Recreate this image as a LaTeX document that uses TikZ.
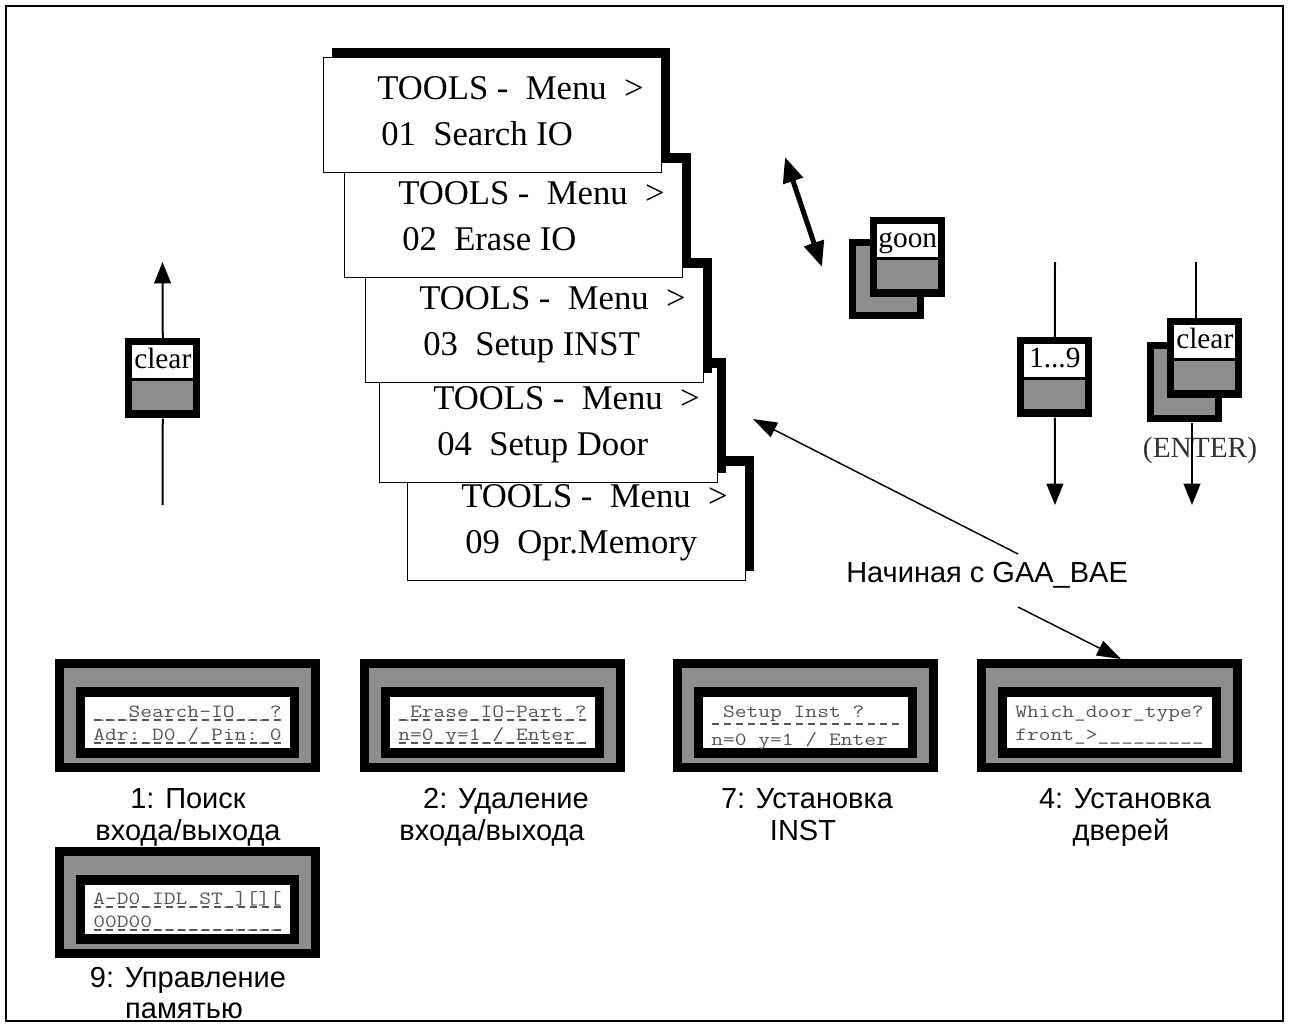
\documentclass[tikz,border=0pt]{standalone}
\usepackage{fontspec}
\usepackage{graphicx}
\setmainfont{Liberation Serif}
\newfontfamily\capfont{Liberation Sans}
\usetikzlibrary{arrows.meta,calc,shadows}
\definecolor{keygray}{HTML}{8E8E8E}
\definecolor{lcdtext}{HTML}{555555}

\newcommand{\menucard}[4]{%
  \node[menucardbox] (#1) at (#2,#3) {};
  \node[cardtxt] (#1a) at ({#2+54},{#3+42}) {TOOLS -~~Menu~~>};
  \node[cardtxt] (#1b) at ({#2+58},{#3+88}) {#4};
}
\newcommand{\keycap}[4]{%
  \node[keyblk] (#1) at (#2,#3) {};
  \fill[keygray] ({#2+7},{#3+43}) rectangle ({#2+68},{#3+72});
  \node[keylab] (#1l) at ({#2+7},{#3+7}) {#4};
}
\newcommand{\keyback}[3]{%
  \node[keyblk] (#1) at (#2,#3) {};
  \fill[keygray] ({#2+7},{#3+7}) rectangle ({#2+68},{#3+73});
}
% name, x0, y0, x1, y1
\newcommand{\lcdpanel}[5]{%
  \node[lcdframe, minimum width={(#4-#2)*0.75pt}, minimum height={(#5-#3)*0.75pt}] (#1) at (#2,#3) {};
  \fill[keygray] ({#2+9},{#3+9}) rectangle ({#4-9},{#5-9});
  \fill[black] ({#2+21},{#3+28}) rectangle ({#4-21},{#5-14});
  \fill[white] ({#2+30},{#3+38}) rectangle ({#4-30},{#5-24});
}
% name, x, baseline, text
\newcommand{\lcdline}[4]{%
  \node[lcdt] (#1) at (#2,#3) {\scalebox{1.225}[1]{#4}};
}
% x, baseline : dashed underline over 16 cells
\newcommand{\lcdunder}[2]{%
  \draw[lcddash] ({#1+1},{#2+3}) -- ({#1+192},{#2+3});
}

\begin{document}
\begin{tikzpicture}[x=0.75pt,y=-0.75pt,
  menucardbox/.style={draw=black, line width=1pt, fill=white, anchor=north west, inner sep=0pt,
    minimum width=253.5pt, minimum height=86.25pt,
    general shadow={fill=black, shadow xshift=6.5pt, shadow yshift=7.5pt}},
  cardtxt/.style={anchor=base west, inner sep=0pt, font=\fontsize{26}{28}\selectfont},
  keyblk/.style={fill=black, anchor=north west, inner sep=0pt, minimum width=56.25pt, minimum height=60pt},
  keylab/.style={fill=white, anchor=north west, inner sep=0pt, minimum width=45.75pt,
    minimum height=24.75pt, text height=15pt, text depth=5pt, font=\fontsize{22}{24}\selectfont},
  lcdframe/.style={fill=black, anchor=north west, inner sep=0pt},
  lcdt/.style={anchor=base west, inner sep=0pt, text=lcdtext, font=\ttfamily\fontsize{14}{14}\selectfont},
  lcddash/.style={draw=lcdtext, line width=0.8pt, dash pattern=on 5pt off 4pt},
  captxt/.style={anchor=base, inner sep=0pt, font=\capfont\fontsize{21.75}{24}\selectfont},
  keytxt/.style={anchor=base, inner sep=0pt, font=\fontsize{22}{24}\selectfont, text=black!80},
  karrow/.style={line width=1.5pt, -{Triangle[length=16pt,width=12.5pt]}},
  kline/.style={line width=1.5pt},
  thinarrow/.style={line width=1.1pt, -{Triangle[length=18pt,width=12pt]}},
  dblarrow/.style={line width=3.75pt, {Triangle[length=19pt,width=15pt]}-{Triangle[length=19pt,width=15pt]}}
]
\useasboundingbox (0,0) rectangle (1290,1026);
\draw[line width=1.2pt] (6,6) rectangle (1283,1021);

% menu cards (bottom first)
\menucard{c5}{407}{465}{09~~Opr.Memory}
\menucard{c4}{379}{367}{04~~Setup Door}
\menucard{c3}{365}{267}{03~~Setup INST}
\menucard{c2}{344}{162}{02~~Erase IO}
\menucard{c1}{323}{57}{01~~Search IO}

% left clear key
\keycap{kL}{125}{338}{clear}
\coordinate (tL) at (162.5,262);
\coordinate (bL) at (162.5,505);
\draw[karrow] (kL.north) -- (tL);
\draw[kline] (bL) -- (kL.south);

% goon key
\keyback{kGb}{849}{239}
\keycap{kG}{870}{217}{goon}
\coordinate (d1) at (785,157);
\coordinate (d2) at (822,267);
\draw[dblarrow] (d1) -- (d2);

% 1...9 key
\keycap{k19}{1017}{337}{1...9}
\coordinate (t19) at (1055,262);
\coordinate (b19) at (1055,505);
\draw[kline] (t19) -- (k19.north);
\draw[karrow] (k19.south) -- (b19);

% clear (ENTER) key
\keyback{kEb}{1147}{342}
\keycap{kE}{1167}{318}{clear}
\node[keytxt] (enter) at (1200,457) {(ENTER)};
\coordinate (tE) at (1196,262);
\coordinate (bE) at (1192,505);
\draw[kline] (tE) -- (tE |- kE.north);
\draw[karrow] (bE |- kEb.south) -- (bE);

% note and arrows
\node[captxt, anchor=base west] (note) at (846,582) {Начиная с GAA\_BAE};
\coordinate (n1) at (1018,554);
\coordinate (n1t) at (753,419);
\coordinate (n2) at (1018,607);
\coordinate (n2t) at (1121,659);

% LCD panels
\lcdpanel{lcd1}{55}{659}{320}{772}
\lcdline{l1a}{93}{717}{\_\_\_Search-IO\_\_\_?}
\lcdline{l1b}{93}{740}{Adr:\_D0\_/\_Pin:\_0}
\lcdunder{93}{717}
\lcdunder{93}{740}

\lcdpanel{lcd2}{360}{659}{625}{772}
\lcdline{l2a}{398}{717}{\_Erase\_IO-Part\_?}
\lcdline{l2b}{398}{740}{n=0\_y=1\_/\_Enter\_}
\lcdunder{398}{717}
\lcdunder{398}{740}

\lcdpanel{lcd3}{673}{659}{938}{772}
\lcdline{l3a}{711}{717}{\ Setup\ Inst\ ?}
\lcdunder{711}{721}
\lcdline{l3b}{711}{745}{n=0\ y=1\ /\ Enter}

\lcdpanel{lcd4}{977}{659}{1242}{772}
\lcdline{l4a}{1015}{717}{Which\_door\_type?}
\lcdline{l4b}{1015}{740}{front\_>\_\_\_\_\_\_\_\_\_}

\lcdpanel{lcd5}{55}{847}{320}{958}
\lcdline{l5a}{93}{904}{A-D0\_IDL\_ST\_][][}
\lcdline{l5b}{93}{927}{00D00\_\_\_\_\_\_\_\_\_\_\_}
\lcdunder{93}{904}
\lcdunder{93}{927}

\draw[thinarrow] (n1) -- (n1t);
\draw[thinarrow] (n2) -- (n2t);

% captions
\node[captxt] (p1a) at (188,808) {1: Поиск};
\node[captxt] (p1b) at (188,840) {входа/выхода};
\node[captxt] (p2a) at (506,808) {2: Удаление};
\node[captxt] (p2b) at (492,840) {входа/выхода};
\node[captxt] (p3a) at (807,808) {7: Установка};
\node[captxt] (p3b) at (803,840) {INST};
\node[captxt] (p4a) at (1125,808) {4: Установка};
\node[captxt] (p4b) at (1121,840) {дверей};
\node[captxt] (p5a) at (188,987) {9: Управление};
\node[captxt] (p5b) at (184,1018) {памятью};
\end{tikzpicture}
\end{document}
